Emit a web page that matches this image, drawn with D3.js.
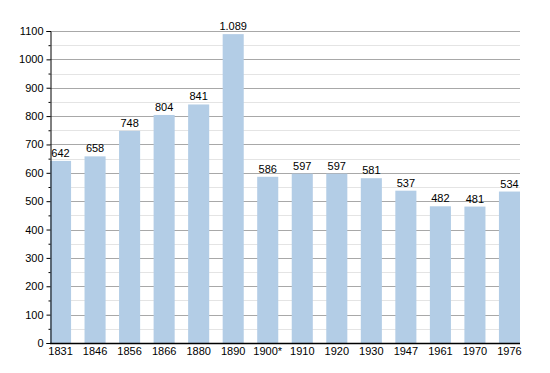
<!DOCTYPE html>
<html>
<head>
<meta charset="utf-8">
<script src="https://cdn.jsdelivr.net/npm/d3@7"></script>
<style>
  body { margin: 0; background: #fff; }
  text { font-family: "Liberation Sans", Arial, sans-serif; font-size: 11px; fill: #000; }
</style>
</head>
<body>
<div id="chart"></div>
<script>
var years = ["1831", "1846", "1856", "1866", "1880", "1890", "1900*", "1910", "1920", "1930", "1947", "1961", "1970", "1976"];
var population = [642, 658, 748, 804, 841, 1089, 586, 597, 597, 581, 537, 482, 481, 534];
var valueLabels = ["642", "658", "748", "804", "841", "1.089", "586", "597", "597", "581", "537", "482", "481", "534"];
var majorTicks = [0, 100, 200, 300, 400, 500, 600, 700, 800, 900, 1000, 1100];
var minorTicks = [50, 150, 250, 350, 450, 550, 650, 750, 850, 950, 1050];

function barChart() {
    var w = 550;
    var h = 373;
    var left = 50, right = 520, top = 31, bottom = 343;

    var svg = d3.select("#chart")
        .append("svg")
        .attr("width", w)
        .attr("height", h);

    var x = d3.scaleBand()
        .domain(years)
        .range([left, right])
        .paddingInner(0.39)
        .paddingOuter(0);

    var y = d3.scaleLinear()
        .domain([0, 1100])
        .range([bottom, top]);

    // grid lines
    svg.selectAll("line.minor")
        .data(minorTicks)
        .enter()
        .append("line")
        .attr("x1", left)
        .attr("x2", right)
        .attr("y1", function(d) { return Math.round(y(d)) + 0.5; })
        .attr("y2", function(d) { return Math.round(y(d)) + 0.5; })
        .attr("stroke", "#e4e4e4");

    svg.selectAll("line.major")
        .data(majorTicks.slice(1))
        .enter()
        .append("line")
        .attr("x1", left)
        .attr("x2", right)
        .attr("y1", function(d) { return Math.round(y(d)) + 0.5; })
        .attr("y2", function(d) { return Math.round(y(d)) + 0.5; })
        .attr("stroke", "#a8a8a8");

    // bars
    svg.selectAll("rect")
        .data(population)
        .enter()
        .append("rect")
        .attr("x", function(d, i) { return x(years[i]); })
        .attr("y", function(d) { return y(d); })
        .attr("width", x.bandwidth())
        .attr("height", function(d) { return bottom - y(d); })
        .attr("fill", "#b3cde6");

    // value labels
    svg.selectAll("text.value")
        .data(population)
        .enter()
        .append("text")
        .attr("class", "value")
        .attr("x", function(d, i) { return x(years[i]) + x.bandwidth() / 2; })
        .attr("y", function(d) { return y(d) - 4; })
        .attr("text-anchor", "middle")
        .text(function(d, i) { return valueLabels[i]; });

    // y axis
    var yAxis = d3.axisLeft(y)
        .tickValues(majorTicks)
        .tickSize(4)
        .tickFormat(d3.format("d"));
    var gy = svg.append("g")
        .attr("transform", "translate(" + (left + 0.5) + ",0)")
        .call(yAxis);
    gy.select(".domain").attr("stroke", "#000");
    gy.selectAll("text").style("font-size", "11px").attr("x", -7);

    var yMinor = d3.axisLeft(y)
        .tickValues(minorTicks)
        .tickSize(2)
        .tickFormat("");
    svg.append("g")
        .attr("transform", "translate(" + (left + 0.5) + ",0)")
        .call(yMinor)
        .select(".domain").remove();

    // x axis
    var xAxis = d3.axisBottom(x).tickSize(0).tickPadding(4);
    var gx = svg.append("g")
        .attr("transform", "translate(0," + (bottom + 0.5) + ")")
        .call(xAxis);
    gx.select(".domain").attr("stroke", "#000").attr("stroke-width", 1.5)
        .attr("d", "M" + left + ",0H" + right);
    gx.selectAll("text").style("font-size", "11px");
}

window.onload = barChart;
</script>
</body>
</html>
